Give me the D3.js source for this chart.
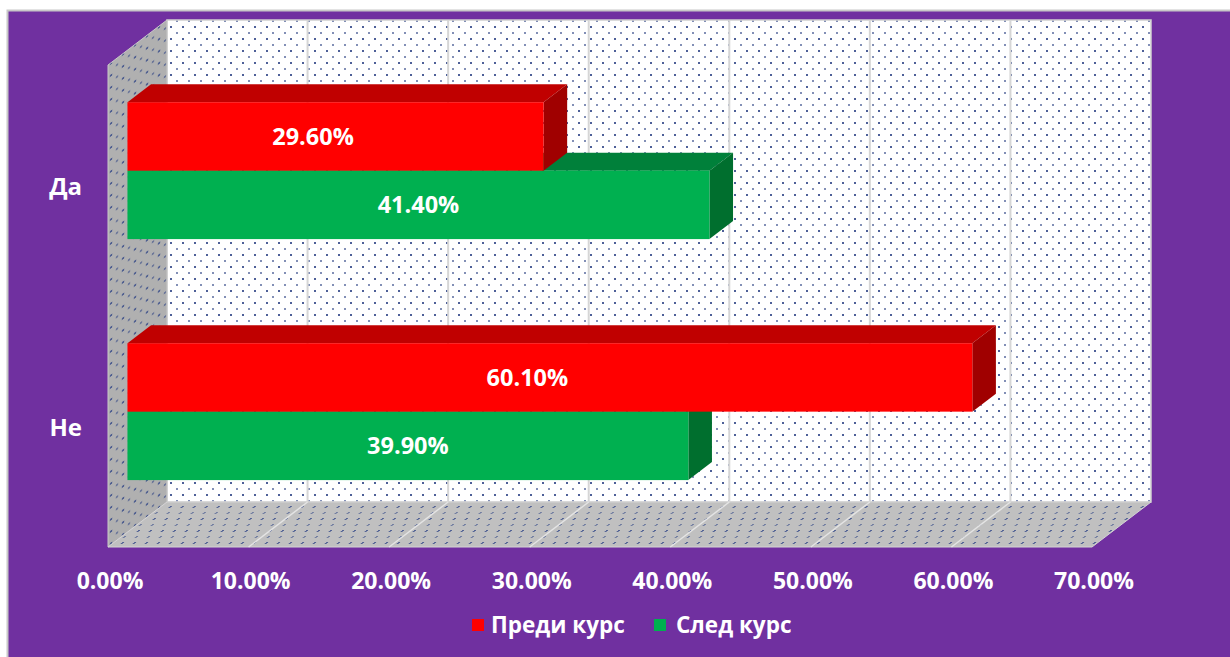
<!DOCTYPE html>
<html>
<head>
<meta charset="utf-8">
<script src="https://cdn.jsdelivr.net/npm/d3@7"></script>
<style>
  html, body { margin: 0; padding: 0; background: #ffffff; }
  svg { display: block; }
  text { font-family: "Open Sans", "Noto Sans", sans-serif; font-weight: 700; fill: #ffffff; }
</style>
</head>
<body>
<svg id="chart" width="1230" height="657"></svg>
<script>
// Survey answers before and after the course
const categories = ["Да", "Не"];
const seriesNames = ["Преди курс", "След курс"];
const beforeValues = [0.296, 0.601];
const afterValues = [0.414, 0.399];
const tickValues = [0, 0.1, 0.2, 0.3, 0.4, 0.5, 0.6, 0.7];

const colors = {
  "Преди курс": { front: "#ff0000", top: "#c00000", side: "#a00000" },
  "След курс": { front: "#00b050", top: "#00803a", side: "#006f2e" }
};

const svg = d3.select("#chart");
const W = 1230, H = 657;

// frame
svg.append("rect").attr("x", 0).attr("y", 0).attr("width", W).attr("height", H).attr("fill", "#ffffff");
svg.append("rect").attr("x", 7.5).attr("y", 10.5).attr("width", W).attr("height", H)
  .attr("fill", "#7030a0").attr("stroke", "#c8c8c8").attr("stroke-width", 2);

// plot geometry (front plane) and depth projection
const plot = { left: 108, right: 1092, top: 65, bottom: 547 };
const depth = { dx: 59, dy: -45 };
const P = (x, y, d) => [x + d * depth.dx, y + d * depth.dy];
const poly = pts => pts.map(p => p.join(",")).join(" ");

const x = d3.scaleLinear().domain([0, 0.7]).range([plot.left, plot.right]);
const y = d3.scaleBand().domain(categories).range([plot.top, plot.bottom])
  .paddingInner(0.432).paddingOuter(0.216);
const ySeries = d3.scaleBand().domain(seriesNames).range([0, y.bandwidth()]);

// dotted fill patterns
const defs = svg.append("defs");
function dots(id, bg, transform) {
  const p = defs.append("pattern").attr("id", id).attr("patternUnits", "userSpaceOnUse")
    .attr("width", 12).attr("height", 12);
  if (transform) p.attr("patternTransform", transform);
  p.append("rect").attr("width", 12).attr("height", 12).attr("fill", bg);
  p.append("rect").attr("x", 2).attr("y", 2).attr("width", 2).attr("height", 2).attr("fill", "#2f4486").attr("opacity", 0.85);
  p.append("rect").attr("x", 8).attr("y", 8).attr("width", 2).attr("height", 2).attr("fill", "#2f4486").attr("opacity", 0.6);
}
dots("dotsWall", "#ffffff");
dots("dotsSide", "#b0b0b0", "skewY(-37)");
dots("dotsFloor", "#c0c0c0", "skewX(-53)");

const g = svg.append("g");
const [x0, yTop, yBot] = [plot.left, plot.top, plot.bottom];
const xMax = x(0.7);

// back wall
const bw = [P(x0, yTop, 1), P(xMax, yTop, 1), P(xMax, yBot, 1), P(x0, yBot, 1)];
g.append("polygon").attr("points", poly(bw)).attr("fill", "url(#dotsWall)")
  .attr("stroke", "#cfcfcf").attr("stroke-width", 1.5);

// side wall
const sw = [P(x0, yTop, 0), P(x0, yTop, 1), P(x0, yBot, 1), P(x0, yBot, 0)];
g.append("polygon").attr("points", poly(sw)).attr("fill", "url(#dotsSide)")
  .attr("stroke", "#c8c8c8").attr("stroke-width", 1);

// floor
const fl = [P(x0, yBot, 0), P(x0, yBot, 1), P(xMax, yBot, 1), P(xMax, yBot, 0)];
g.append("polygon").attr("points", poly(fl)).attr("fill", "url(#dotsFloor)")
  .attr("stroke", "#d4d4d4").attr("stroke-width", 1);

// gridlines on back wall and floor
tickValues.slice(1, -1).forEach(v => {
  const a = P(x(v), yTop, 1), b = P(x(v), yBot, 1), c = P(x(v), yBot, 0);
  g.append("line").attr("x1", a[0]).attr("y1", a[1]).attr("x2", b[0]).attr("y2", b[1])
    .attr("stroke", "#d6d6d6").attr("stroke-width", 2);
  g.append("line").attr("x1", b[0]).attr("y1", b[1]).attr("x2", c[0]).attr("y2", c[1])
    .attr("stroke", "#e4e4e4").attr("stroke-width", 1.5);
});

// bars: lower series first so the upper bar overlaps it
const dF = 0.33, dB = 0.73;
const rows = categories.map((c, i) => ({ cat: c, values: { "Преди курс": beforeValues[i], "След курс": afterValues[i] } }));
const barsG = svg.append("g");
rows.forEach(row => {
  [...seriesNames].reverse().forEach(s => {
    const v = row.values[s];
    const yt = y(row.cat) + ySeries(s);
    const yb = yt + ySeries.bandwidth();
    const xa = x(0), xb = x(v);
    const col = colors[s];
    barsG.append("polygon")
      .attr("points", poly([P(xa, yt, dF), P(xb, yt, dF), P(xb, yt, dB), P(xa, yt, dB)]))
      .attr("fill", col.top);
    barsG.append("polygon")
      .attr("points", poly([P(xb, yt, dF), P(xb, yt, dB), P(xb, yb, dB), P(xb, yb, dF)]))
      .attr("fill", col.side);
    const f0 = P(xa, yt, dF), f1 = P(xb, yb, dF);
    barsG.append("rect").attr("x", f0[0]).attr("y", f0[1])
      .attr("width", f1[0] - f0[0]).attr("height", f1[1] - f0[1]).attr("fill", col.front);
  });
});

// value labels
const fmt = d3.format(".2%");
rows.forEach(row => {
  seriesNames.forEach(s => {
    const v = row.values[s];
    const yc = y(row.cat) + ySeries(s) + ySeries.bandwidth() / 2;
    const lx = s === "Преди курс"
      ? (x(0) + x(v)) / 2 - 3
      : (P(x(0), 0, dF)[0] + P(x(v), 0, dF)[0]) / 2;
    const ly = P(0, yc, dF)[1];
    svg.append("text").attr("x", lx).attr("y", ly).attr("dy", "0.36em")
      .attr("text-anchor", "middle").attr("font-size", 23.5).text(fmt(v));
  });
});

// value axis labels
const axisG = svg.append("g");
tickValues.forEach(v => {
  axisG.append("text").attr("x", x(v) + 2).attr("y", 581).attr("dy", "0.36em")
    .attr("text-anchor", "middle").attr("font-size", 23).text(fmt(v));
});

// category labels
categories.forEach(c => {
  svg.append("text").attr("x", 82).attr("y", y(c) + y.bandwidth() / 2 + 1).attr("dy", "0.36em")
    .attr("text-anchor", "end").attr("font-size", 24).text(c);
});

// legend
const legend = [
  { name: seriesNames[0], sx: 472, tx: 491 },
  { name: seriesNames[1], sx: 654, tx: 676 }
];
legend.forEach(l => {
  svg.append("rect").attr("x", l.sx).attr("y", 619).attr("width", 12).attr("height", 12)
    .attr("fill", colors[l.name].front);
  svg.append("text").attr("x", l.tx).attr("y", 625).attr("dy", "0.36em")
    .attr("font-size", 22.5).text(l.name);
});
</script>
</body>
</html>
